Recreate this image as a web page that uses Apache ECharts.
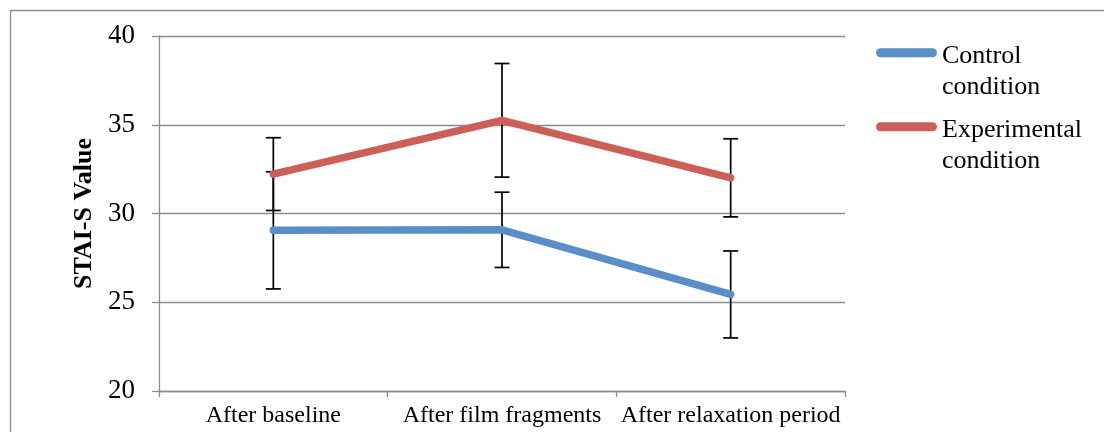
<!DOCTYPE html>
<html>
<head>
<meta charset="utf-8">
<script src="https://cdn.jsdelivr.net/npm/echarts@6/dist/echarts.min.js"></script>
<style>
  html, body { margin: 0; padding: 0; background: #ffffff; }
  #chart { width: 1104px; height: 432px; }
</style>
</head>
<body>
<div id="chart"></div>
<script>
// STAI-S state anxiety by measurement moment, mean ± error per condition
const categories = ['After baseline', 'After film fragments', 'After relaxation period'];
const controlMean = [29.05, 29.08, 25.44];
const controlErr = [3.3, 2.12, 2.45];
const experimentalMean = [32.22, 35.25, 32.01];
const experimentalErr = [2.05, 3.2, 2.2];
const yTicks = { min: 20, max: 40, interval: 5 };

const seriesNames = ['Control condition', 'Experimental condition'];
const colors = ['#5b8ec7', '#cc5f58'];
const FONT = '"Liberation Serif", "Times New Roman", serif';

// [categoryIndex, low, high] for each error bar
function errorData(mean, err) {
  return mean.map((m, i) => [i, m - err[i], m + err[i]]);
}

// vertical whisker with horizontal caps
function renderErrorBar(params, api) {
  const x = api.value(0);
  const lo = api.coord([x, api.value(1)]);
  const hi = api.coord([x, api.value(2)]);
  const half = 7.5;
  const style = { stroke: '#000000', lineWidth: 1.7, fill: null };
  return {
    type: 'group',
    children: [
      { type: 'line', shape: { x1: hi[0], y1: hi[1], x2: lo[0], y2: lo[1] }, style },
      { type: 'line', shape: { x1: hi[0] - half, y1: hi[1], x2: hi[0] + half, y2: hi[1] }, style },
      { type: 'line', shape: { x1: lo[0] - half, y1: lo[1], x2: lo[0] + half, y2: lo[1] }, style }
    ]
  };
}

// capsule-shaped legend key (thick line with round ends)
const capsule = 'path://M4.5,0 H56.5 A4.5,4.5 0 0 1 56.5,9 H4.5 A4.5,4.5 0 0 1 4.5,0 Z';

const legendText = { fontFamily: FONT, fontSize: 26, color: '#000000' };

function legendFor(name, top) {
  return {
    data: [name],
    left: 876,
    top: top,
    padding: 0,
    orient: 'vertical',
    icon: capsule,
    itemWidth: 61,
    itemHeight: 9,
    selectedMode: false,
    // a taller blank first line sets the key just above the first line of the name
    formatter: n => {
      const words = n.split(' ');
      return '{gap| }\n{t|' + words[0] + '}\n{t|' + words.slice(1).join(' ') + '}';
    },
    textStyle: Object.assign({}, legendText, {
      rich: {
        gap: Object.assign({}, legendText, { lineHeight: 38 }),
        t: Object.assign({}, legendText, { lineHeight: 31 })
      }
    })
  };
}

const chart = echarts.init(document.getElementById('chart'), null, { renderer: 'canvas' });

chart.setOption({
  animation: false,
  backgroundColor: '#ffffff',
  color: colors,
  graphic: [{
    type: 'rect',
    shape: { x: 10.5, y: 10.5, width: 1200, height: 600 },
    style: { fill: null, stroke: '#8c8c8c', lineWidth: 1.3 },
    silent: true
  }],
  grid: { left: 159, right: 259, top: 36, bottom: 41, containLabel: false },
  legend: [
    legendFor(seriesNames[0], 8.7),
    legendFor(seriesNames[1], 82.7)
  ],
  xAxis: {
    type: 'category',
    data: categories,
    boundaryGap: true,
    axisLine: { lineStyle: { color: '#8c8c8c', width: 1.3 } },
    axisTick: { show: true, length: 6, lineStyle: { color: '#8c8c8c', width: 1.3 } },
    axisLabel: { color: '#000000', fontFamily: FONT, fontSize: 24, margin: 13, interval: 0 },
    splitLine: { show: false }
  },
  yAxis: {
    type: 'value',
    min: yTicks.min,
    max: yTicks.max,
    interval: yTicks.interval,
    name: 'STAI-S Value',
    nameLocation: 'middle',
    nameGap: 62,
    nameRotate: 90,
    nameTextStyle: { color: '#000000', fontFamily: FONT, fontSize: 26, fontWeight: 'bold' },
    axisLine: { show: true, lineStyle: { color: '#8c8c8c', width: 1.3 } },
    axisTick: { show: true, length: 7, lineStyle: { color: '#8c8c8c', width: 1.3 } },
    axisLabel: { color: '#000000', fontFamily: FONT, fontSize: 27, margin: 24 },
    splitLine: { show: true, lineStyle: { color: '#8c8c8c', width: 1.3 } }
  },
  series: [
    {
      name: seriesNames[0] + ' error',
      type: 'custom',
      renderItem: renderErrorBar,
      data: errorData(controlMean, controlErr),
      z: 3,
      silent: true
    },
    {
      name: seriesNames[1] + ' error',
      type: 'custom',
      renderItem: renderErrorBar,
      data: errorData(experimentalMean, experimentalErr),
      z: 3,
      silent: true
    },
    {
      name: seriesNames[0],
      type: 'line',
      data: controlMean,
      showSymbol: false,
      symbol: 'none',
      lineStyle: { color: colors[0], width: 7.5, cap: 'round', join: 'round' },
      itemStyle: { color: colors[0] },
      z: 5
    },
    {
      name: seriesNames[1],
      type: 'line',
      data: experimentalMean,
      showSymbol: false,
      symbol: 'none',
      lineStyle: { color: colors[1], width: 7.5, cap: 'round', join: 'round' },
      itemStyle: { color: colors[1] },
      z: 5
    }
  ]
});
</script>
</body>
</html>
